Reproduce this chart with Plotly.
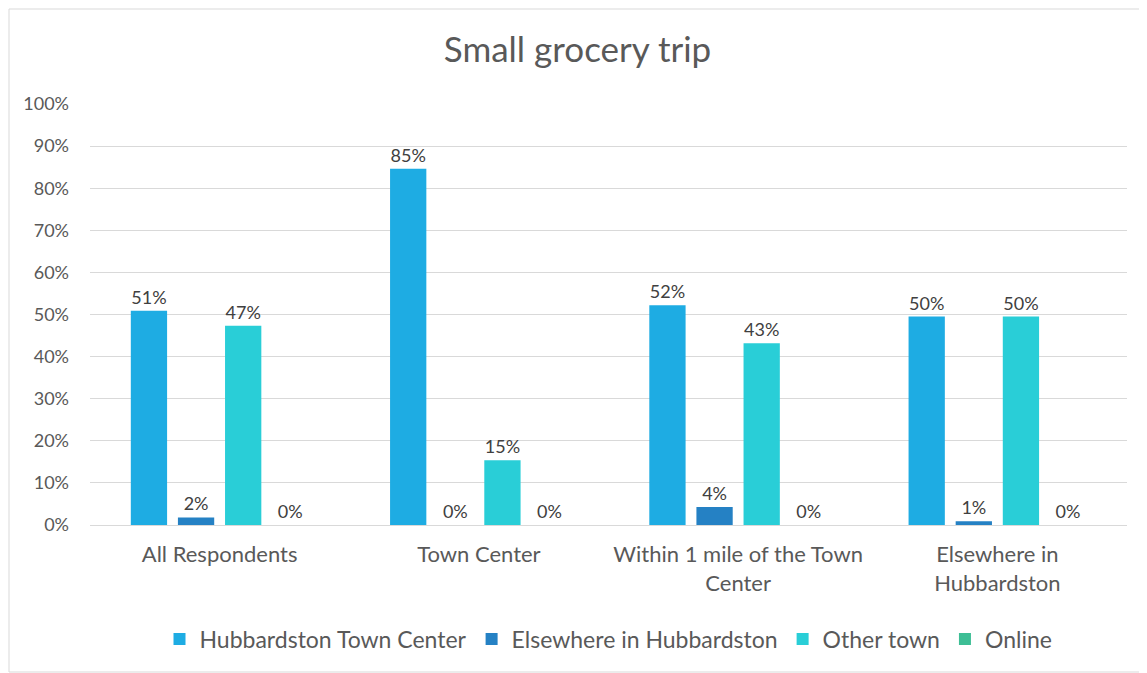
import plotly.graph_objects as go

categories = ["All Respondents", "Town Center", "Within 1 mile of the Town<br>Center", "Elsewhere in<br>Hubbardston"]
series_names = ["Hubbardston Town Center", "Elsewhere in Hubbardston", "Other town", "Online"]
hubbardston_tc = [0.509, 0.846, 0.522, 0.495]
elsewhere_hub = [0.018, 0.0, 0.043, 0.009]
other_town = [0.473, 0.154, 0.432, 0.495]
online = [0.0, 0.0, 0.0, 0.0]
y_ticks = [0, 0.1, 0.2, 0.3, 0.4, 0.5, 0.6, 0.7, 0.8, 0.9, 1.0]

colors = ["#1EACE3", "#2581C4", "#29CED7", "#3DBE95"]
values = [hubbardston_tc, elsewhere_hub, other_town, online]

FONT = "Lato, 'Open Sans', sans-serif"
TXT = "#595959"

fig = go.Figure()
for name, vals, c in zip(series_names, values, colors):
    fig.add_trace(go.Bar(
        name=name, x=categories, y=vals, marker=dict(color=c, line=dict(width=0)),
        texttemplate="%{y:.0%}", textposition="outside",
        textfont=dict(size=18, color="#404040", family=FONT),
        cliponaxis=False,
    ))

W, H = 1139, 665
ml, mr, mt, mb = 82, 20, 96, 148
ph = H - mt - mb
fig.update_layout(
    width=W, height=H,
    margin=dict(l=ml, r=mr, t=mt, b=mb),
    paper_bgcolor="white", plot_bgcolor="white",
    barmode="group", bargap=0.273, bargroupgap=0.23,
    title=dict(text="Small grocery trip", x=0.5, xanchor="center", y=1 - 42 / H, yanchor="middle",
               font=dict(size=35, color=TXT, family=FONT)),
    font=dict(family=FONT, color=TXT),
    legend=dict(orientation="h", x=0.5, xanchor="center", y=-114 / ph, yanchor="middle",
                font=dict(size=23, color=TXT, family=FONT), itemwidth=30, traceorder="normal"),
    xaxis=dict(showgrid=False, showline=True, linecolor="#D9D9D9", linewidth=1, ticks="",
               ticklabelstandoff=10,
               tickfont=dict(size=22, color=TXT, family=FONT)),
    yaxis=dict(range=[0, 1.0], tickvals=y_ticks, tickformat=".0%", showgrid=True,
               gridcolor="#D9D9D9", gridwidth=1, zeroline=False, showline=False, ticks="",
               ticklabelstandoff=20,
               tickfont=dict(size=18, color=TXT, family=FONT)),
    shapes=[dict(type="rect", xref="paper", yref="paper",
                 x0=-(ml - 1) / (W - ml - mr), x1=1 + (mr - 1) / (W - ml - mr),
                 y0=-(mb - 1) / ph, y1=1 + (mt - 1) / ph,
                 line=dict(color="#D9D9D9", width=1), fillcolor="rgba(0,0,0,0)", layer="below")],
)

fig.write_html("out.html")
